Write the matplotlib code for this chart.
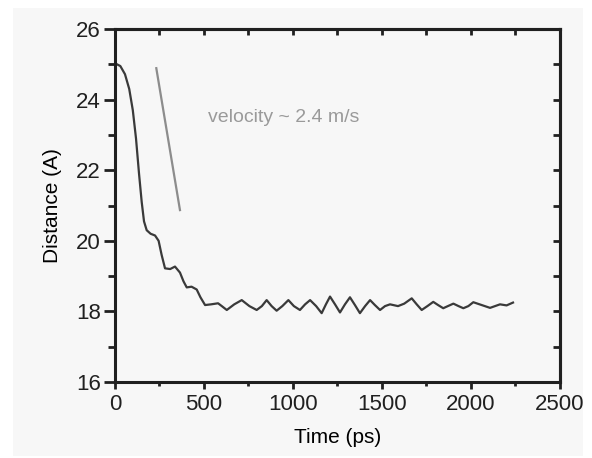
import matplotlib
matplotlib.use('Agg')
import matplotlib.pyplot as plt
from matplotlib.patches import Rectangle
from matplotlib.ticker import MultipleLocator, NullFormatter

# distance vs time
time_ps = [0, 30, 56, 80, 100, 118, 135, 150, 163, 178, 200, 225, 245, 262, 281, 310, 337, 365,
           385, 403, 430, 459, 480, 506, 540, 579, 600, 628, 670, 712, 755, 796, 825, 852, 880,
           908, 940, 974, 1005, 1039, 1068, 1096, 1130, 1161, 1185, 1208, 1236, 1264, 1292, 1320,
           1348, 1376, 1405, 1433, 1460, 1489, 1517, 1545, 1590, 1625, 1667, 1695, 1723, 1755,
           1788, 1815, 1844, 1870, 1901, 1930, 1957, 1985, 2013, 2060, 2107, 2163, 2200, 2236]
distance = [25.03, 24.95, 24.72, 24.3, 23.7, 22.9, 21.9, 21.1, 20.55, 20.3, 20.2, 20.15, 20.0,
            19.6, 19.22, 19.2, 19.27, 19.1, 18.85, 18.68, 18.7, 18.62, 18.4, 18.18, 18.2, 18.23,
            18.15, 18.04, 18.2, 18.32, 18.15, 18.04, 18.15, 18.32, 18.15, 18.02, 18.15, 18.32,
            18.15, 18.04, 18.2, 18.32, 18.15, 17.95, 18.2, 18.42, 18.2, 17.97, 18.2, 18.4, 18.18,
            17.95, 18.15, 18.32, 18.18, 18.04, 18.15, 18.2, 18.15, 18.22, 18.37, 18.2, 18.04,
            18.15, 18.27, 18.18, 18.09, 18.15, 18.22, 18.15, 18.09, 18.15, 18.26, 18.18, 18.1,
            18.2, 18.17, 18.25]

# guide line for the slope
vel_t = [232, 365]
vel_d = [24.89, 20.87]
vel_text = 'velocity ~ 2.4 m/s'

W, H = 592, 458
fig = plt.figure(figsize=(W / 100, H / 100), dpi=100, facecolor='white')
fig.patches.append(Rectangle((13 / W, 2 / H), 570 / W, 448 / H, transform=fig.transFigure,
                             facecolor='#f7f7f7', edgecolor='none', zorder=-1))
plt.rcParams['font.family'] = ['Liberation Sans', 'DejaVu Sans']

ax = fig.add_axes([115 / W, 76 / H, 445 / W, 353 / H])
ax.set_facecolor('#f7f7f7')

ax.plot(time_ps, distance, color='#3a3a3a', linewidth=1.6, solid_joinstyle='round')
ax.plot(vel_t, vel_d, color='#8c8c8c', linewidth=1.6)
ax.text(522, 23.48, vel_text, color='#9a9a9a', fontsize=14, va='center', ha='left')

ax.set_xlim(0, 2500)
ax.set_ylim(16, 26)
ax.xaxis.set_major_locator(MultipleLocator(500))
ax.xaxis.set_minor_locator(MultipleLocator(250))
ax.yaxis.set_major_locator(MultipleLocator(2))
ax.yaxis.set_minor_locator(MultipleLocator(1))

for s in ax.spines.values():
    s.set_linewidth(2.2)
    s.set_color('#202020')

ax.tick_params(axis='both', which='both', direction='out', width=2, colors='#202020',
               labelsize=16, top=False, right=False)
ax.tick_params(axis='x', which='major', length=5, pad=4)
ax.tick_params(axis='x', which='minor', length=3)
ax.tick_params(axis='y', which='major', length=8, pad=2)
ax.tick_params(axis='y', which='minor', length=5)

# top and right: inward ticks, no labels
top = ax.secondary_xaxis('top')
top.xaxis.set_major_locator(MultipleLocator(250))
top.xaxis.set_major_formatter(NullFormatter())
top.tick_params(direction='in', length=4, width=2, colors='#202020')
top.spines['top'].set_linewidth(2.2)
right = ax.secondary_yaxis('right')
right.yaxis.set_major_locator(MultipleLocator(1))
right.yaxis.set_major_formatter(NullFormatter())
right.tick_params(direction='in', length=5, width=2, colors='#202020')
right.spines['right'].set_linewidth(2.2)

ax.set_xlabel('Time (ps)', fontsize=15, labelpad=9)
ax.set_ylabel('Distance (A)', fontsize=15, labelpad=10)

fig.savefig('out.png', dpi=100, facecolor='white')
